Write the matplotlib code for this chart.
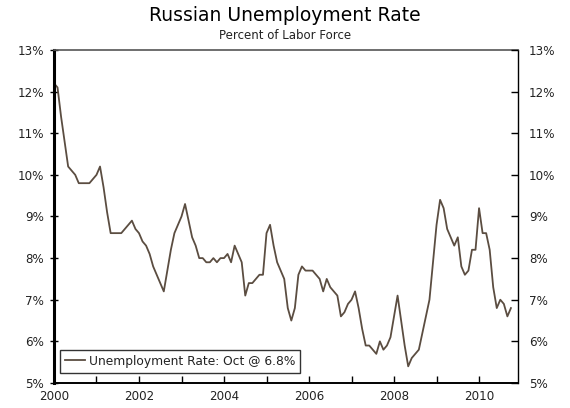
import numpy as np
import matplotlib.pyplot as plt
import matplotlib.ticker as mticker

# monthly unemployment rate, Jan 2000 .. Oct 2010
rate = [
    12.2, 12.1, 11.4, 10.8, 10.2, 10.1, 10.0, 9.8, 9.8, 9.8, 9.8, 9.9,   # 2000
    10.0, 10.2, 9.7, 9.1, 8.6, 8.6, 8.6, 8.6, 8.7, 8.8, 8.9, 8.7,        # 2001
    8.6, 8.4, 8.3, 8.1, 7.8, 7.6, 7.4, 7.2, 7.7, 8.2, 8.6, 8.8,          # 2002
    9.0, 9.3, 8.9, 8.5, 8.3, 8.0, 8.0, 7.9, 7.9, 8.0, 7.9, 8.0,          # 2003
    8.0, 8.1, 7.9, 8.3, 8.1, 7.9, 7.1, 7.4, 7.4, 7.5, 7.6, 7.6,          # 2004
    8.6, 8.8, 8.3, 7.9, 7.7, 7.5, 6.8, 6.5, 6.8, 7.6, 7.8, 7.7,          # 2005
    7.7, 7.7, 7.6, 7.5, 7.2, 7.5, 7.3, 7.2, 7.1, 6.6, 6.7, 6.9,          # 2006
    7.0, 7.2, 6.8, 6.3, 5.9, 5.9, 5.8, 5.7, 6.0, 5.8, 5.9, 6.1,          # 2007
    6.6, 7.1, 6.5, 5.9, 5.4, 5.6, 5.7, 5.8, 6.2, 6.6, 7.0, 7.9,          # 2008
    8.8, 9.4, 9.2, 8.7, 8.5, 8.3, 8.5, 7.8, 7.6, 7.7, 8.2, 8.2,          # 2009
    9.2, 8.6, 8.6, 8.2, 7.3, 6.8, 7.0, 6.9, 6.6, 6.8,                    # 2010
]
start_year = 2000
year_ticks = list(range(2000, 2011))
year_labels = [str(y) if y % 2 == 0 else '' for y in year_ticks]
pct_ticks = list(range(5, 14))

x = start_year + np.arange(len(rate)) / 12.0

line_color = '#5b4d41'
text_color = '#222222'

fig = plt.figure(figsize=(5.7, 4.08), dpi=100)
ax = fig.add_axes([0.0947, 0.0613, 0.8141, 0.8162])

ax.plot(x, rate, color=line_color, lw=1.3,
        label='Unemployment Rate: Oct @ 6.8%')

ax.set_xlim(2000, 2000 + 131 / 12.0)
ax.set_ylim(5, 13)
ax.set_xticks(year_ticks)
ax.set_xticklabels(year_labels)
ax.set_yticks(pct_ticks)
ax.yaxis.set_major_formatter(mticker.FuncFormatter(lambda v, p: f'{v:.0f}%'))

ax.tick_params(axis='x', direction='in', length=5, width=1, colors='black',
               labelcolor=text_color, labelsize=8.6, pad=5)
ax.tick_params(axis='y', direction='inout', length=6, width=1, colors='black',
               labelcolor=text_color, labelsize=8.6, pad=4)

ax.spines['left'].set_linewidth(2.2)
ax.spines['bottom'].set_linewidth(1.4)
ax.spines['right'].set_linewidth(1.0)
ax.spines['top'].set_color('#555555')
ax.spines['top'].set_linewidth(1.2)

ax2 = ax.twinx()
ax2.set_ylim(5, 13)
ax2.set_yticks(pct_ticks)
ax2.yaxis.set_major_formatter(mticker.FuncFormatter(lambda v, p: f'{v:.0f}%'))
ax2.tick_params(axis='y', direction='in', length=5, width=1, colors='black',
                labelcolor=text_color, labelsize=8.6, pad=8)
for s in ax2.spines.values():
    s.set_visible(False)

leg = ax.legend(loc='lower left', bbox_to_anchor=(0.006, 0.02), frameon=True,
                fancybox=False, edgecolor='black', fontsize=8.8, handlelength=1.6,
                handletextpad=0.3, borderpad=0.4, borderaxespad=0.3)
leg.get_frame().set_linewidth(1.0)
for t in leg.get_texts():
    t.set_color(text_color)

fig.text(0.5, 0.963, 'Russian Unemployment Rate', ha='center', va='center',
         fontsize=13.5, color='black')
fig.text(0.5, 0.912, 'Percent of Labor Force', ha='center', va='center',
         fontsize=8.5, color=text_color)

fig.savefig('out.png', dpi=100)
